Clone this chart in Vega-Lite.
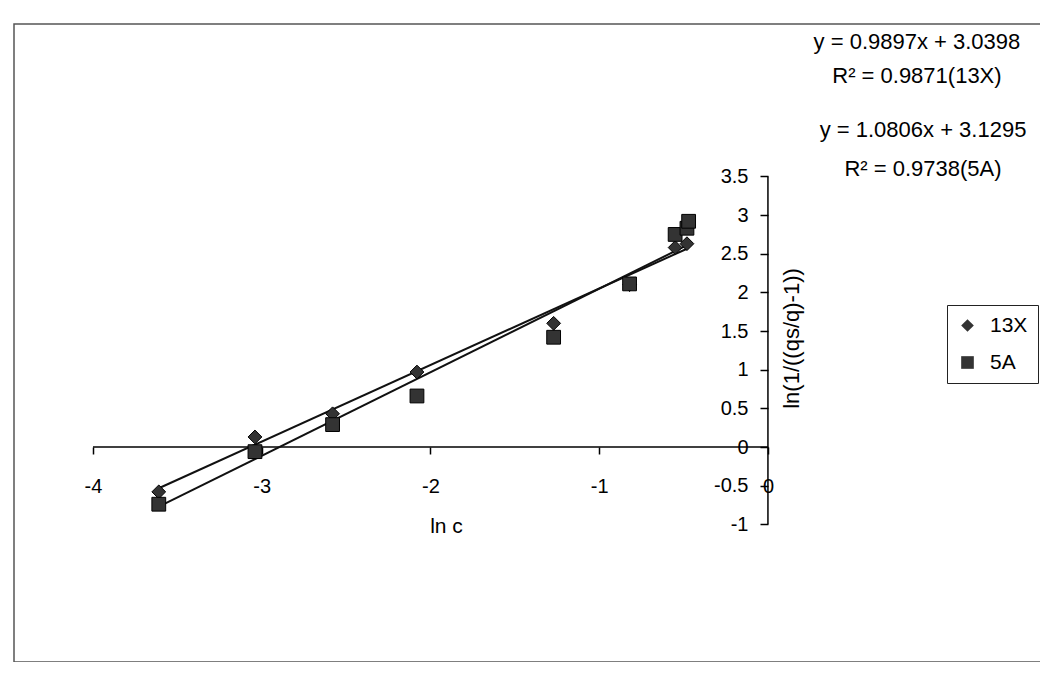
{
  "$schema": "https://vega.github.io/schema/vega-lite/v6.json",
  "width": 1030,
  "height": 638,
  "autosize": {"type": "none"},
  "padding": {"left": 14, "top": 24, "right": 0, "bottom": 0},
  "background": "white",
  "config": {
    "view": {"stroke": "#555555", "strokeWidth": 1.5},
    "font": "Liberation Sans",
    "text": {"font": "Liberation Sans"}
  },
  "resolve": {"axis": {"x": "independent", "y": "independent"}},
  "datasets": {
    "points": [
      {"series": "13X", "lnc": -3.61, "value": -0.58},
      {"series": "13X", "lnc": -3.04, "value": 0.13},
      {"series": "13X", "lnc": -2.58, "value": 0.43},
      {"series": "13X", "lnc": -2.08, "value": 0.97},
      {"series": "13X", "lnc": -1.27, "value": 1.60},
      {"series": "13X", "lnc": -0.82, "value": 2.10},
      {"series": "13X", "lnc": -0.55, "value": 2.58},
      {"series": "13X", "lnc": -0.48, "value": 2.63},
      {"series": "5A", "lnc": -3.61, "value": -0.74},
      {"series": "5A", "lnc": -3.04, "value": -0.06},
      {"series": "5A", "lnc": -2.58, "value": 0.29},
      {"series": "5A", "lnc": -2.08, "value": 0.66},
      {"series": "5A", "lnc": -1.27, "value": 1.42},
      {"series": "5A", "lnc": -0.82, "value": 2.11},
      {"series": "5A", "lnc": -0.55, "value": 2.75},
      {"series": "5A", "lnc": -0.48, "value": 2.83},
      {"series": "5A", "lnc": -0.47, "value": 2.92}
    ],
    "trend": [
      {"series": "13X", "lnc": -3.61, "value": -0.533},
      {"series": "13X", "lnc": -0.48, "value": 2.565},
      {"series": "5A", "lnc": -3.61, "value": -0.772},
      {"series": "5A", "lnc": -0.47, "value": 2.621}
    ]
  },
  "layer": [
    {
      "data": {"values": [{}]},
      "mark": {"type": "rule", "color": "black", "strokeWidth": 1.5},
      "encoding": {
        "x": {"datum": -4, "type": "quantitative", "scale": {"domain": [-4.468, 1.636], "nice": false, "zero": false}, "axis": null},
        "x2": {"datum": 0},
        "y": {"datum": 0, "type": "quantitative", "scale": {"domain": [-2.781, 5.472], "nice": false, "zero": false}, "axis": null}
      }
    },
    {
      "data": {"values": [{}]},
      "mark": {"type": "rule", "color": "black", "strokeWidth": 1.5},
      "encoding": {
        "x": {"datum": 0, "type": "quantitative", "scale": {"domain": [-4.468, 1.636], "nice": false, "zero": false}, "axis": null},
        "y": {"datum": -1, "type": "quantitative", "scale": {"domain": [-2.781, 5.472], "nice": false, "zero": false}, "axis": null},
        "y2": {"datum": 3.5}
      }
    },
    {
      "data": {"name": "trend"},
      "mark": {"type": "line", "color": "#111111", "strokeWidth": 2},
      "encoding": {
        "x": {"field": "lnc", "type": "quantitative", "scale": {"domain": [-4.468, 1.636], "nice": false, "zero": false}, "axis": null},
        "y": {"field": "value", "type": "quantitative", "scale": {"domain": [-2.781, 5.472], "nice": false, "zero": false}, "axis": null},
        "detail": {"field": "series", "type": "nominal"}
      }
    },
    {
      "data": {"name": "points"},
      "mark": {"type": "point", "filled": true, "fill": "#333333", "stroke": "black", "strokeWidth": 1, "size": 190, "opacity": 1},
      "encoding": {
        "x": {
          "field": "lnc", "type": "quantitative",
          "scale": {"domain": [-4.468, 1.636], "nice": false, "zero": false},
          "axis": {
            "values": [-4, -3, -2, -1, 0], "offset": -215, "domain": false, "grid": false,
            "tickSize": 7, "tickColor": "black", "tickWidth": 1.5,
            "labelFontSize": 20, "labelColor": "black", "labelPadding": 22, "labelFont": "Liberation Sans",
            "labelFlush": false, "labelOverlap": false, "labelBound": false,
            "labelExpr": "'' + datum.value",
            "title": "ln c", "titleFontSize": 21, "titleFontWeight": "normal", "titleColor": "black", "titleFont": "Liberation Sans",
            "titleX": 432, "titleY": 79, "titleAlign": "center", "titleBaseline": "middle"
          }
        },
        "y": {
          "field": "value", "type": "quantitative",
          "scale": {"domain": [-2.781, 5.472], "nice": false, "zero": false},
          "axis": {
            "values": [-1, -0.5, 0, 0.5, 1, 1.5, 2, 2.5, 3, 3.5], "offset": -754, "domain": false, "grid": false,
            "tickSize": 8, "tickColor": "black", "tickWidth": 1.5,
            "labelFontSize": 20, "labelColor": "black", "labelPadding": 12, "labelFont": "Liberation Sans",
            "labelFlush": false, "labelOverlap": false, "labelBound": false,
            "labelExpr": "'' + datum.value",
            "title": "ln(1/((qs/q)-1))", "titleFontSize": 22, "titleFontWeight": "normal", "titleColor": "black", "titleFont": "Liberation Sans",
            "titleAngle": 270, "titleX": 23, "titleY": 314, "titleAlign": "center", "titleBaseline": "middle"
          }
        },
        "shape": {
          "field": "series", "type": "nominal",
          "scale": {"domain": ["13X", "5A"], "range": ["diamond", "square"]},
          "legend": {
            "title": null, "orient": "none", "legendX": 933, "legendY": 281,
            "strokeColor": "#222222", "padding": 10,
            "labelFontSize": 21, "labelFont": "Liberation Sans", "labelColor": "black", "labelOffset": 12,
            "symbolSize": 160, "symbolFillColor": "#333333", "symbolStrokeColor": "black", "symbolStrokeWidth": 1,
            "rowPadding": 15
          }
        }
      }
    },
    {
      "data": {"values": [{}]},
      "mark": {"type": "text", "fontSize": 22, "align": "center", "baseline": "middle", "lineHeight": 34, "color": "black"},
      "encoding": {
        "x": {"datum": 0.883, "type": "quantitative", "scale": {"domain": [-4.468, 1.636], "nice": false, "zero": false}, "axis": null},
        "y": {"datum": 5.239, "type": "quantitative", "scale": {"domain": [-2.781, 5.472], "nice": false, "zero": false}, "axis": null},
        "text": {"value": ["y = 0.9897x + 3.0398", "R² = 0.9871(13X)"]}
      }
    },
    {
      "data": {"values": [{}]},
      "mark": {"type": "text", "fontSize": 22, "align": "center", "baseline": "middle", "lineHeight": 39, "color": "black"},
      "encoding": {
        "x": {"datum": 0.919, "type": "quantitative", "scale": {"domain": [-4.468, 1.636], "nice": false, "zero": false}, "axis": null},
        "y": {"datum": 4.1, "type": "quantitative", "scale": {"domain": [-2.781, 5.472], "nice": false, "zero": false}, "axis": null},
        "text": {"value": ["y = 1.0806x + 3.1295", "R² = 0.9738(5A)"]}
      }
    }
  ]
}
